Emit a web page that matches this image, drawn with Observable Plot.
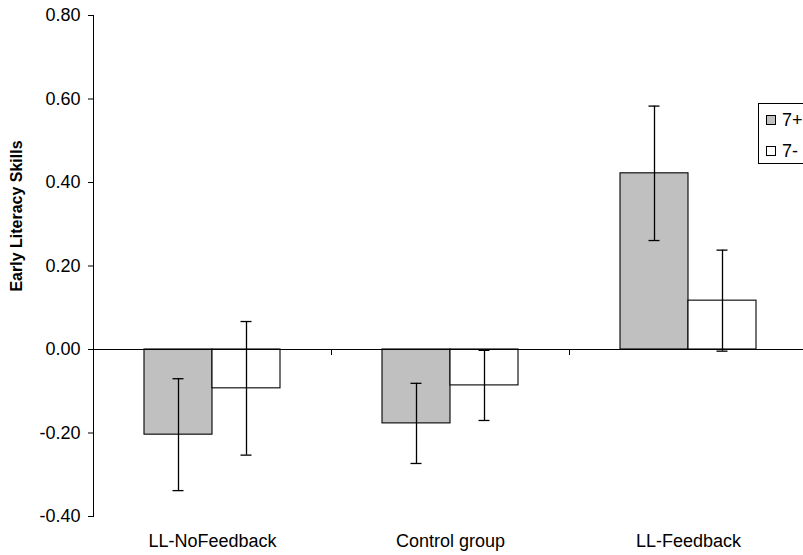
<!DOCTYPE html>
<html><head><meta charset="utf-8">
<script src="https://cdn.jsdelivr.net/npm/d3@7"></script>
<script src="https://cdn.jsdelivr.net/npm/@observablehq/plot@0.6"></script>
<style>
body{margin:0;background:#fff;overflow:hidden}
#wrap{position:relative;width:803px;height:555px;overflow:hidden;font-family:Arial,"Liberation Sans",sans-serif;color:#000}
#legend{position:absolute;left:758px;top:103px;width:70px;height:61px;border:1px solid #000;background:#fff;box-sizing:border-box}
.item{position:absolute;left:7px;height:20px;display:flex;align-items:center;font-size:18px;line-height:20px}
.sw{width:10px;height:10px;border:1px solid #000;margin-right:6px;box-sizing:border-box}
</style></head><body><div id="wrap"><div id="chart"></div><div id="legend"></div></div>
<script>
const groups = ["LL-NoFeedback", "Control group", "LL-Feedback"];
const series = ["7+", "7-"];
const mean7plus = [-0.204, -0.177, 0.422];
const mean7minus = [-0.093, -0.086, 0.117];
const err7plus = [0.134, 0.096, 0.161];
const err7minus = [0.160, 0.084, 0.121];
const yTicks = [-0.4, -0.2, 0, 0.2, 0.4, 0.6, 0.8];
const seriesColors = ["#c0c0c0", "#ffffff"];
const yTitle = "Early Literacy Skills";

const data = groups.flatMap((g, i) => [
  {group: g, series: series[0], mean: mean7plus[i], err: err7plus[i]},
  {group: g, series: series[1], mean: mean7minus[i], err: err7minus[i]}
]);

const W = 803, H = 555, mL = 93, mR = -4, mT = 15, mB = 39;
const po = 0.75;
const fxStep = (W - mL - mR) / groups.length;
const bw = fxStep / (series.length + 2 * po);
const firstCenter = po * bw + bw / 2;
const pxPerUnit = (H - mT - mB) / (yTicks[yTicks.length - 1] - yTicks[0]);
const capHalf = 5.5;

const chart = Plot.plot({
  width: W, height: H,
  marginLeft: mL, marginRight: mR, marginTop: mT, marginBottom: mB,
  style: {fontFamily: 'Arial, "Liberation Sans", sans-serif', fontSize: "18px", color: "#000", background: "#fff", overflow: "visible"},
  fx: {domain: groups, padding: 0, label: null},
  x: {domain: series, paddingInner: 0, paddingOuter: po, axis: null},
  y: {domain: [yTicks[0], yTicks[yTicks.length - 1]], label: null},
  color: {domain: series, range: seriesColors},
  marks: [
    Plot.barY(data, {fx: "group", x: "series", y: "mean", fill: "series", stroke: "#000", strokeWidth: 1.1}),
    Plot.ruleY([0], {stroke: "#000", strokeWidth: 1.1}),
    Plot.ruleX(groups.slice(1).map(g => ({group: g})), {fx: "group", x: () => series[0], y1: 0, y2: -6 / pxPerUnit, dx: -firstCenter, stroke: "#000"}),
    Plot.ruleX(data, {fx: "group", x: "series", y1: d => d.mean - d.err, y2: d => d.mean + d.err, stroke: "#000", strokeWidth: 1.3}),
    Plot.tickY(data, {fx: "group", x: "series", y: d => d.mean + d.err, insetLeft: bw / 2 - capHalf, insetRight: bw / 2 - capHalf, stroke: "#000", strokeWidth: 1.3}),
    Plot.tickY(data, {fx: "group", x: "series", y: d => d.mean - d.err, insetLeft: bw / 2 - capHalf, insetRight: bw / 2 - capHalf, stroke: "#000", strokeWidth: 1.3}),
    Plot.frame({anchor: "left", facetAnchor: "left", stroke: "#000"}),
    Plot.axisY({ticks: yTicks, tickFormat: d => d.toFixed(2), tickSize: 5, tickPadding: 8, label: null}),
    Plot.axisFx({anchor: "bottom", tickSize: 0, tickPadding: 18, label: null}),
    Plot.text([yTitle], {frameAnchor: "left", facetAnchor: "left", textAnchor: "middle", rotate: -90, dx: -(mL - 16), dy: -50, fontWeight: "bold", fontSize: 16})
  ]
});
document.getElementById("chart").appendChild(chart);

const legend = document.getElementById("legend");
series.forEach((s, i) => {
  const item = document.createElement("div");
  item.className = "item";
  item.style.top = (6 + i * 31) + "px";
  const sw = document.createElement("span");
  sw.className = "sw";
  sw.style.background = seriesColors[i];
  const t = document.createElement("span");
  t.textContent = s;
  item.appendChild(sw);
  item.appendChild(t);
  legend.appendChild(item);
});
</script></body></html>
